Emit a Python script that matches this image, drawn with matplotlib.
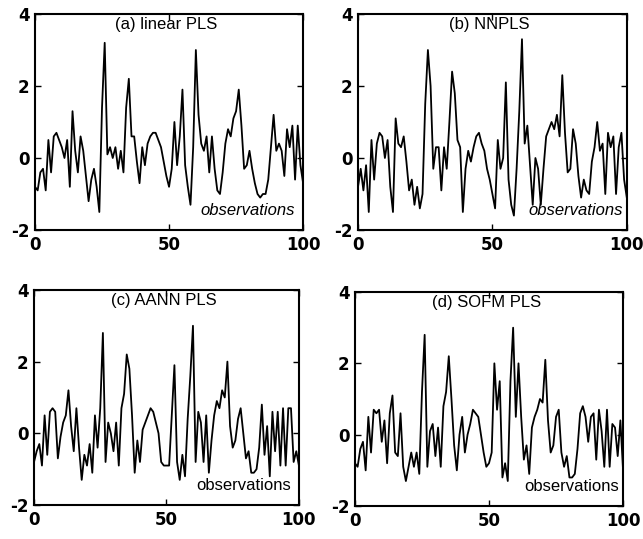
import numpy as np
import matplotlib
matplotlib.use("Agg")
import matplotlib.pyplot as plt

plt.rcParams["axes.unicode_minus"] = False

# observation index
obs = np.arange(0, 101)

# (a) linear PLS
linear_pls = [-0.8, -0.9, -0.4, -0.3, -0.9, 0.5, -0.4, 0.6, 0.7, 0.5,
              0.3, 0.0, 0.5, -0.8, 1.3, 0.2, -0.4, 0.6, 0.2, -0.5,
              -1.2, -0.6, -0.3, -0.8, -1.5, 1.4, 3.2, 0.1, 0.3, 0.0,
              0.3, -0.3, 0.2, -0.4, 1.4, 2.2, 0.6, 0.6, -0.1, -0.7,
              0.3, -0.2, 0.4, 0.6, 0.7, 0.7, 0.5, 0.3, -0.1, -0.5,
              -0.8, -0.3, 1.0, -0.2, 0.6, 1.9, -0.2, -0.8, -1.3, 0.3,
              3.0, 1.2, 0.4, 0.2, 0.6, -0.4, 0.6, -0.3, -0.9, -1.0,
              -0.4, 0.4, 0.8, 0.6, 1.1, 1.3, 1.9, 0.9, -0.3, -0.2,
              0.2, -0.3, -0.7, -1.0, -1.1, -1.0, -1.0, -0.6, 0.3, 1.2,
              0.2, 0.4, 0.2, -0.5, 0.8, 0.3, 0.9, -0.6, 0.9, -0.2,
              -0.7]

# (b) NNPLS
nnpls = [-0.8, -0.3, -0.9, -0.2, -1.5, 0.5, -0.6, 0.4, 0.7, 0.6,
         0.0, 0.5, -0.8, -1.5, 1.1, 0.4, 0.3, 0.6, -0.1, -0.9,
         -0.6, -1.3, -0.8, -1.4, -1.0, 1.5, 3.0, 2.0, -0.3, 0.3,
         0.3, -0.9, 0.3, -0.3, 1.0, 2.4, 1.8, 0.5, 0.3, -1.5,
         -0.3, 0.2, -0.1, 0.3, 0.6, 0.7, 0.4, 0.2, -0.3, -0.6,
         -1.0, -1.4, 0.5, -0.3, 0.0, 2.1, -0.6, -1.3, -1.6, -0.3,
         1.3, 3.3, 0.4, 0.9, -0.2, -1.3, 0.0, -0.3, -1.3, -0.3,
         0.6, 0.8, 1.0, 0.8, 1.2, 0.6, 2.3, 0.7, -0.4, -0.3,
         0.8, 0.4, -0.5, -1.1, -0.6, -0.9, -1.0, -0.1, 0.3, 1.0,
         0.2, 0.4, -1.0, 0.7, 0.3, 0.6, -1.0, 0.3, 0.7, -0.6,
         -1.1]

# (c) AANN PLS
aann_pls = [-0.8, -0.5, -0.3, -0.9, 0.5, -0.6, 0.6, 0.7, 0.6, -0.7,
            -0.1, 0.3, 0.5, 1.2, 0.2, -0.5, 0.7, -0.4, -1.3, -0.6,
            -0.9, -0.3, -1.1, 0.5, -0.4, 0.7, 2.8, -0.8, 0.3, 0.0,
            -0.5, 0.3, -0.9, 0.7, 1.1, 2.2, 1.8, 0.5, -1.1, -0.2,
            -0.8, 0.1, 0.3, 0.5, 0.7, 0.6, 0.3, 0.0, -0.8, -0.9,
            -0.9, -0.9, 0.5, 1.9, -0.8, -1.3, -0.6, -1.2, 0.4, 1.6,
            3.0, -0.8, 0.6, 0.3, -0.8, 0.5, -1.1, -0.2, 0.5, 0.9,
            0.7, 1.2, 1.0, 2.0, 0.2, -0.4, -0.2, 0.4, 0.7, 0.0,
            -0.7, -0.5, -1.1, -1.1, -1.0, -0.4, 0.8, -0.6, 0.2, -1.2,
            0.6, -0.5, 0.6, -0.9, 0.7, -0.9, 0.7, 0.7, -0.8, -0.5,
            -0.9]

# (d) SOFM PLS
sofm_pls = [-0.8, -0.9, -0.4, -0.2, -1.0, 0.5, -0.5, 0.7, 0.6, 0.7,
            -0.2, 0.4, -0.8, 0.6, 1.1, -0.5, -0.6, 0.6, -0.9, -1.3,
            -0.9, -0.5, -0.9, -0.5, -1.1, 1.2, 2.8, -0.9, 0.1, 0.3,
            -0.6, 0.2, -0.9, 0.8, 1.2, 2.2, 1.0, -0.3, -1.0, 0.0,
            0.5, -0.5, 0.0, 0.3, 0.7, 0.6, 0.5, 0.0, -0.5, -0.9,
            -0.8, -0.5, 2.0, 0.7, 1.5, -1.2, -0.8, -1.3, 1.5, 3.0,
            0.5, 2.0, 0.5, -0.7, -0.3, -1.1, 0.2, 0.5, 0.7, 1.0,
            0.9, 2.1, 0.4, -0.5, -0.3, 0.5, 0.7, -0.5, -0.9, -0.6,
            -1.2, -1.2, -1.1, -0.4, 0.6, 0.8, 0.5, -0.2, 0.5, 0.6,
            -0.7, 0.7, 0.1, -0.9, 0.7, -0.9, 0.3, 0.2, -0.6, 0.4,
            -1.0]

titles = ["(a) linear PLS", "(b) NNPLS", "(c) AANN PLS", "(d) SOFM PLS"]
series = [linear_pls, nnpls, aann_pls, sofm_pls]
label_style = ["italic", "italic", "normal", "normal"]

# axes boxes in figure fractions [left, bottom, width, height]
boxes = [[0.0544, 0.5733, 0.417, 0.4007],
         [0.5568, 0.5733, 0.418, 0.4007],
         [0.0529, 0.0631, 0.412, 0.399],
         [0.5520, 0.0612, 0.417, 0.397]]

fig = plt.figure(figsize=(6.43, 5.39), dpi=100)

for i in range(4):
    ax = fig.add_axes(boxes[i])
    ax.plot(obs, series[i], color="black", linewidth=1.3)
    ax.set_xlim(0, 100)
    ax.set_ylim(-2, 4)
    ax.set_xticks([0, 50, 100])
    ax.set_yticks([-2, 0, 2, 4])
    ax.tick_params(direction="in", top=True, right=True, length=4, width=1,
                   labelsize=12, pad=4)
    for lab in ax.get_xticklabels() + ax.get_yticklabels():
        lab.set_fontweight("bold")
    for sp in ax.spines.values():
        sp.set_linewidth(1.5)
    ax.text(0.49, 0.95, titles[i], transform=ax.transAxes, ha="center", va="center",
            fontsize=12, family="Liberation Sans")
    ax.text(0.985 if i % 2 else 0.97, 0.07, "observations", transform=ax.transAxes,
            ha="right", va="baseline", fontsize=12, style=label_style[i],
            family="Liberation Sans")

fig.savefig("out.png", dpi=100)
